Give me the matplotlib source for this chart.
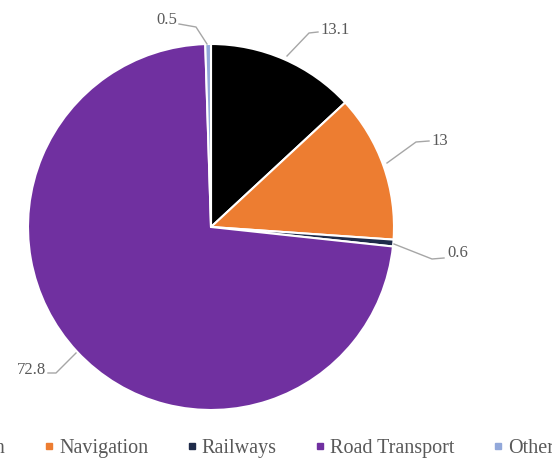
import matplotlib
matplotlib.use("Agg")
import matplotlib.pyplot as plt
from matplotlib.lines import Line2D

# data (clockwise from 12 o'clock)
categories = ["Aviation", "Navigation", "Railways", "Road Transport", "Other"]
shares = [13.1, 13, 0.6, 72.8, 0.5]
colours = ["#000000", "#ED7D31", "#1F2B4A", "#7030A0", "#92A8DA"]
value_labels = ["13.1", "13", "0.6", "72.8", "0.5"]

W, H = 552, 461
cx, cy, r = 211, 227, 183

def px(x, y):
    # pixel position -> data coords of the pie axes
    return (x - cx) / r, (cy - y) / r

fig = plt.figure(figsize=(W / 100, H / 100), dpi=100)
ax = fig.add_axes([(cx - r) / W, 1 - (cy + r) / H, 2 * r / W, 2 * r / H])
ax.pie(shares, colors=colours, startangle=90, counterclock=False, radius=1,
       wedgeprops=dict(edgecolor="white", linewidth=1.5))
ax.set_xlim(-1, 1)
ax.set_ylim(-1, 1)
ax.set_aspect("auto")
ax.axis("off")

txt_col = "#595959"
line_col = "#A6A6A6"
# label anchor (px), alignment, leader line points (px)
label_spots = {
    "13.1": ((320, 30), "left", [(318, 32), (309, 33), (287, 56)]),
    "13": ((431, 141), "left", [(429, 141), (416, 142), (387, 163)]),
    "0.6": ((447, 253), "left", [(444, 258), (432, 259), (394, 244)]),
    "72.8": ((46, 370), "right", [(48, 373), (56, 373), (76, 353)]),
    "0.5": ((177, 20), "right", [(179, 24), (196, 27), (207, 44)]),
}
for lab in value_labels:
    (tx, ty), ha, pts = label_spots[lab]
    xs, ys = zip(*[px(a, b) for a, b in pts])
    ax.plot(xs, ys, color=line_col, lw=1.0, clip_on=False)
    x, y = px(tx, ty)
    ax.text(x, y, lab, ha=ha, va="center", fontsize=12, color=txt_col,
            family="Liberation Serif", clip_on=False)

handles = [Line2D([], [], ls="none", marker="s", markersize=4,
                  color=c) for c in colours]
leg = fig.legend(handles, categories, loc="center", ncol=5,
                 bbox_to_anchor=(238 / W, 1 - 448 / H), frameon=False,
                 handlelength=0.5, handletextpad=0.25, columnspacing=1.9,
                 prop=dict(family="Liberation Serif", size=14.5))
for t in leg.get_texts():
    t.set_color(txt_col)

fig.savefig("out.png", dpi=100)
